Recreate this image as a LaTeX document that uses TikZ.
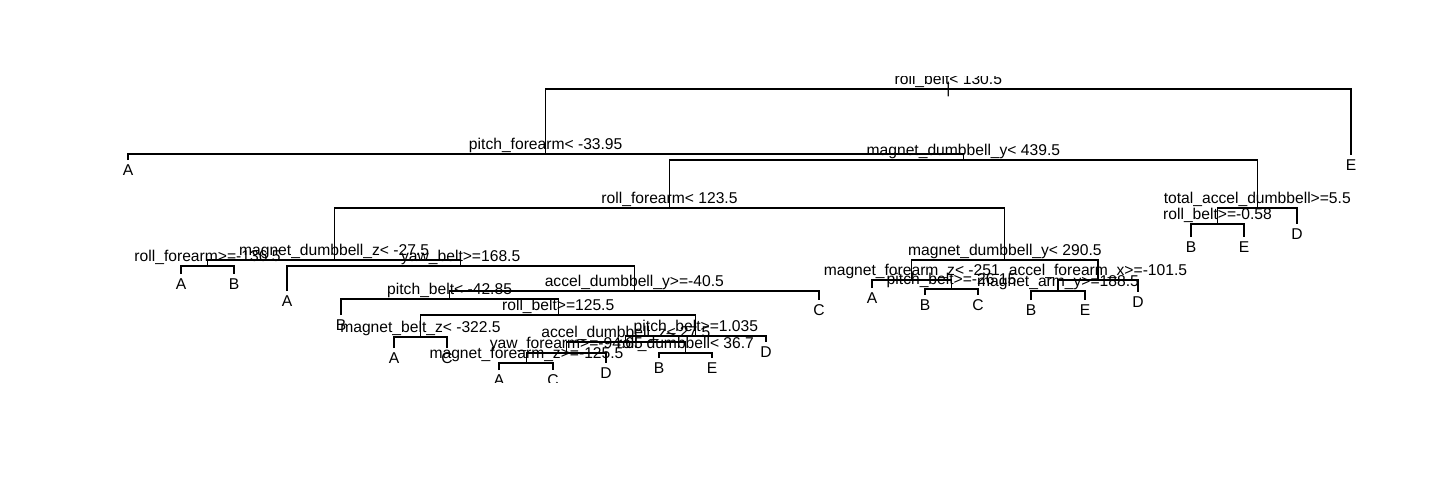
\documentclass[tikz,border=0pt]{standalone}
\usepackage{fontspec}
\setmainfont{Liberation Sans}
\begin{document}
\begin{tikzpicture}[x=0.02cm,y=-0.02cm,line width=0.6pt,
        font=\fontsize{8.9pt}{10pt}\selectfont,
        splitlab/.style={anchor=base,yshift=2.3pt,inner sep=0pt},
        leaflab/.style={anchor=base,yshift=-9.1pt,inner sep=0pt}]
    \useasboundingbox (0,0) rectangle (1440,480);
    \clip (0,76) rectangle (1440,382);
    \coordinate (root) at (948.3,89);
    \coordinate (pf) at (545.7,154);
    \coordinate (mdya) at (963.4,160);
    \coordinate (rfa) at (669.5,208);
    \coordinate (mdz) at (334.1,260);
    \coordinate (rfb) at (207.5,266);
    \coordinate (yb) at (460.7,266);
    \coordinate (ady) at (634.3,291);
    \coordinate (pba) at (449.6,299);
    \coordinate (rba) at (558.2,315);
    \coordinate (mbz) at (420.5,337);
    \coordinate (pbb) at (695.9,336);
    \coordinate (adz) at (625.9,342);
    \coordinate (yf) at (566.3,353);
    \coordinate (mfza) at (526.5,363);
    \coordinate (rd) at (685.5,353);
    \coordinate (mdyb) at (1004.9,260);
    \coordinate (mfzb) at (911.8,280);
    \coordinate (pbc) at (951.5,289);
    \coordinate (afx) at (1098,280);
    \coordinate (may) at (1058,291);
    \coordinate (tad) at (1257.3,208);
    \coordinate (rbb) at (1217.5,224);
    \coordinate (l0) at (128,160);
    \coordinate (l1) at (181,274);
    \coordinate (l2) at (234,274);
    \coordinate (l3) at (287,291);
    \coordinate (l4) at (341,315);
    \coordinate (l5) at (394,348);
    \coordinate (l6) at (447,348);
    \coordinate (l7) at (499,370);
    \coordinate (l8) at (553,370);
    \coordinate (l9) at (606,363);
    \coordinate (l10) at (659,358);
    \coordinate (l11) at (712,358);
    \coordinate (l12) at (766,342);
    \coordinate (l13) at (819,300);
    \coordinate (l14) at (872,288);
    \coordinate (l15) at (925,295);
    \coordinate (l16) at (978,295);
    \coordinate (l17) at (1031,300);
    \coordinate (l18) at (1085,300);
    \coordinate (l19) at (1138,292);
    \coordinate (l20) at (1191,237);
    \coordinate (l21) at (1244,237);
    \coordinate (l22) at (1297,224);
    \coordinate (l23) at (1351,155);
    \draw (pf) |- (root) -| (l23);
    \draw (l0) |- (pf) -| (mdya);
    \draw (rfa) |- (mdya) -| (tad);
    \draw (mdz) |- (rfa) -| (mdyb);
    \draw (rfb) |- (mdz) -| (yb);
    \draw (l1) |- (rfb) -| (l2);
    \draw (l3) |- (yb) -| (ady);
    \draw (pba) |- (ady) -| (l13);
    \draw (l4) |- (pba) -| (rba);
    \draw (mbz) |- (rba) -| (pbb);
    \draw (l5) |- (mbz) -| (l6);
    \draw (adz) |- (pbb) -| (l12);
    \draw (yf) |- (adz) -| (rd);
    \draw (mfza) |- (yf) -| (l9);
    \draw (l7) |- (mfza) -| (l8);
    \draw (l10) |- (rd) -| (l11);
    \draw (mfzb) |- (mdyb) -| (afx);
    \draw (l14) |- (mfzb) -| (pbc);
    \draw (l15) |- (pbc) -| (l16);
    \draw (may) |- (afx) -| (l19);
    \draw (l17) |- (may) -| (l18);
    \draw (rbb) |- (tad) -| (l22);
    \draw (l20) |- (rbb) -| (l21);
    \node[inner sep=0pt] (rootbar) at (root) {|};
    \node[splitlab] (rootlab) at (root) {roll\_belt< 130.5};
    \node[splitlab] (pflab) at (pf) {pitch\_forearm< -33.95};
    \node[splitlab] (mdyalab) at (mdya) {magnet\_dumbbell\_y< 439.5};
    \node[splitlab] (rfalab) at (rfa) {roll\_forearm< 123.5};
    \node[splitlab] (mdzlab) at (mdz) {magnet\_dumbbell\_z< -27.5};
    \node[splitlab] (rfblab) at (rfb) {roll\_forearm>=-136.5};
    \node[splitlab] (yblab) at (yb) {yaw\_belt>=168.5};
    \node[splitlab] (adylab) at (ady) {accel\_dumbbell\_y>=-40.5};
    \node[splitlab] (pbalab) at (pba) {pitch\_belt< -42.85};
    \node[splitlab] (rbalab) at (rba) {roll\_belt>=125.5};
    \node[splitlab] (mbzlab) at (mbz) {magnet\_belt\_z< -322.5};
    \node[splitlab] (pbblab) at (pbb) {pitch\_belt>=1.035};
    \node[splitlab] (adzlab) at (adz) {accel\_dumbbell\_z< 27.5};
    \node[splitlab] (yflab) at (yf) {yaw\_forearm>=-94.65};
    \node[splitlab] (mfzalab) at (mfza) {magnet\_forearm\_z>=-125.5};
    \node[splitlab] (rdlab) at (rd) {roll\_dumbbell< 36.7};
    \node[splitlab] (mdyblab) at (mdyb) {magnet\_dumbbell\_y< 290.5};
    \node[splitlab] (mfzblab) at (mfzb) {magnet\_forearm\_z< -251};
    \node[splitlab] (pbclab) at (pbc) {pitch\_belt>=-26.15};
    \node[splitlab] (afxlab) at (afx) {accel\_forearm\_x>=-101.5};
    \node[splitlab] (maylab) at (may) {magnet\_arm\_y>=188.5};
    \node[splitlab] (tadlab) at (tad) {total\_accel\_dumbbell>=5.5};
    \node[splitlab] (rbblab) at (rbb) {roll\_belt>=-0.58};
    \node[leaflab] (t0) at (l0) {A};
    \node[leaflab] (t1) at (l1) {A};
    \node[leaflab] (t2) at (l2) {B};
    \node[leaflab] (t3) at (l3) {A};
    \node[leaflab] (t4) at (l4) {B};
    \node[leaflab] (t5) at (l5) {A};
    \node[leaflab] (t6) at (l6) {C};
    \node[leaflab] (t7) at (l7) {A};
    \node[leaflab] (t8) at (l8) {C};
    \node[leaflab] (t9) at (l9) {D};
    \node[leaflab] (t10) at (l10) {B};
    \node[leaflab] (t11) at (l11) {E};
    \node[leaflab] (t12) at (l12) {D};
    \node[leaflab] (t13) at (l13) {C};
    \node[leaflab] (t14) at (l14) {A};
    \node[leaflab] (t15) at (l15) {B};
    \node[leaflab] (t16) at (l16) {C};
    \node[leaflab] (t17) at (l17) {B};
    \node[leaflab] (t18) at (l18) {E};
    \node[leaflab] (t19) at (l19) {D};
    \node[leaflab] (t20) at (l20) {B};
    \node[leaflab] (t21) at (l21) {E};
    \node[leaflab] (t22) at (l22) {D};
    \node[leaflab] (t23) at (l23) {E};
\end{tikzpicture}
\end{document}
